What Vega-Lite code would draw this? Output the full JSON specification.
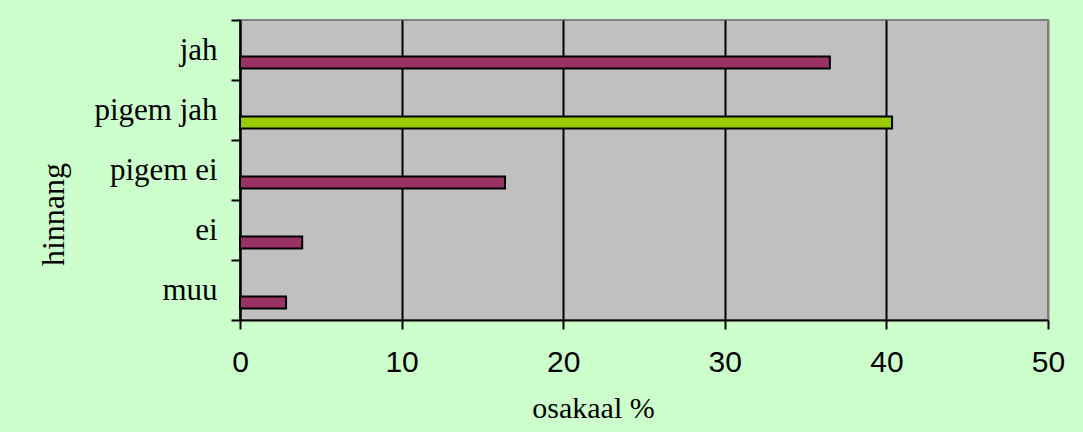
{
  "$schema": "https://vega.github.io/schema/vega-lite/v6.json",
  "autosize": {"type": "none"},
  "width": 808,
  "height": 300,
  "padding": {"left": 240, "top": 20, "right": 35, "bottom": 112},
  "background": "#CCFFCC",
  "config": {
    "view": {"fill": "#C0C0C0", "stroke": "#808080", "strokeWidth": 2}
  },
  "data": {
    "values": [
      {"hinnang": "jah", "osakaal": 36.5, "seeria": "b"},
      {"hinnang": "pigem jah", "osakaal": 40.35, "seeria": "b"},
      {"hinnang": "pigem ei", "osakaal": 16.4, "seeria": "b"},
      {"hinnang": "ei", "osakaal": 3.85, "seeria": "b"},
      {"hinnang": "muu", "osakaal": 2.85, "seeria": "b"}
    ]
  },
  "mark": {"type": "bar", "stroke": "black", "strokeWidth": 2},
  "encoding": {
    "y": {
      "field": "hinnang",
      "type": "nominal",
      "sort": null,
      "scale": {"paddingInner": 0, "paddingOuter": 0},
      "axis": {
        "title": "hinnang",
        "titleFont": "Liberation Serif",
        "titleFontSize": 32,
        "titleFontWeight": "normal",
        "titleColor": "black",
        "titleAngle": -90,
        "titleX": -177,
        "titleY": 194,
        "titleAlign": "center",
        "titleBaseline": "alphabetic",
        "labelFont": "Liberation Serif",
        "labelFontSize": 31,
        "labelColor": "black",
        "labelPadding": 14,
        "tickBand": "extent",
        "tickSize": 9,
        "tickWidth": 2,
        "tickColor": "black",
        "domainColor": "black",
        "domainWidth": 2,
        "grid": false
      }
    },
    "yOffset": {
      "field": "seeria",
      "type": "nominal",
      "scale": {"domain": ["a", "b"], "paddingInner": 0.52, "paddingOuter": 0.46}
    },
    "x": {
      "field": "osakaal",
      "type": "quantitative",
      "scale": {"domain": [0, 50], "nice": false},
      "axis": {
        "title": "osakaal %",
        "titleFont": "Liberation Serif",
        "titleFontSize": 30,
        "titleFontWeight": "normal",
        "titleColor": "black",
        "titleX": 353,
        "titleY": 97,
        "titleAlign": "center",
        "titleBaseline": "alphabetic",
        "values": [0, 10, 20, 30, 40, 50],
        "labelFont": "Liberation Sans",
        "labelFontSize": 30,
        "labelColor": "black",
        "labelPadding": 18,
        "labelFlush": false,
        "labelOverlap": false,
        "tickSize": 9,
        "tickWidth": 2,
        "tickColor": "black",
        "domainColor": "black",
        "domainWidth": 2,
        "grid": true,
        "gridWidth": 2,
        "gridColor": {"condition": {"test": "datum.value === 50", "value": "#808080"}, "value": "black"}
      }
    },
    "color": {
      "condition": {"test": "datum.hinnang === 'pigem jah'", "value": "#99CC00"},
      "value": "#993366"
    }
  }
}
